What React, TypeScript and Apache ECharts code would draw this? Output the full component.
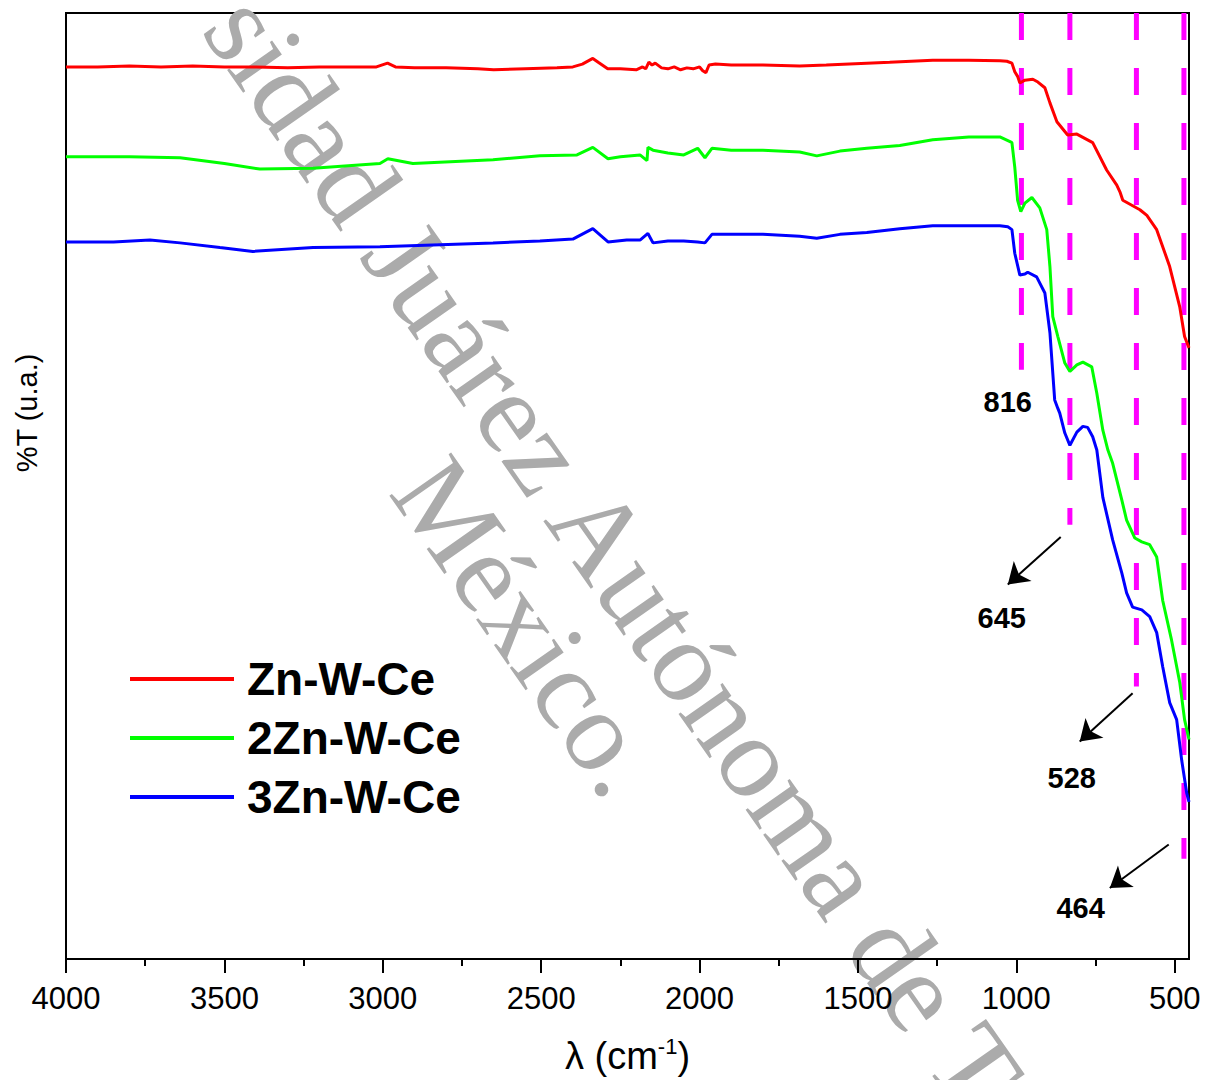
import React, { useEffect, useRef } from "react";
import * as echarts from "echarts";

// FTIR transmittance spectra (wavenumber in cm-1, %T in arbitrary units)
const redX = [4000, 3900, 3800, 3700, 3600, 3500, 3400, 3300, 3200, 3100, 3020, 2985, 2960, 2900, 2800, 2700, 2650, 2550, 2450, 2400, 2370, 2337, 2320, 2290, 2250, 2200, 2180, 2170, 2160, 2150, 2140, 2120, 2100, 2080, 2060, 2040, 2020, 2000, 1990, 1980, 1970, 1950, 1900, 1800, 1684, 1600, 1472, 1400, 1264, 1150, 1052, 1030, 1014, 1005, 996, 989, 973, 948, 932, 910, 894, 872, 838, 809, 759, 715, 683, 672, 664, 610, 588, 557, 516, 484, 469, 455];
const redY = [94.3, 94.3, 94.4, 94.3, 94.4, 94.3, 94.3, 94.2, 94.3, 94.3, 94.3, 94.7, 94.3, 94.2, 94.2, 94.1, 94.0, 94.1, 94.2, 94.3, 94.6, 95.2, 94.8, 94.1, 94.1, 94.0, 94.3, 94.1, 94.8, 94.5, 94.7, 94.2, 94.1, 94.3, 94.0, 94.2, 94.1, 94.3, 93.9, 93.7, 94.5, 94.6, 94.5, 94.5, 94.4, 94.5, 94.7, 94.8, 95.0, 95.0, 94.95, 94.9, 94.7, 93.8, 93.3, 92.6, 92.9, 93.0, 92.7, 92.1, 90.5, 88.5, 87.1, 87.2, 86.3, 83.4, 81.8, 81.0, 80.2, 79.2, 78.6, 77.1, 73.2, 68.9, 65.8, 64.6];

const greenX = [4000, 3800, 3640, 3500, 3388, 3220, 3009, 2984, 2905, 2652, 2504, 2387, 2337, 2289, 2250, 2188, 2166, 2163, 2147, 2100, 2050, 2006, 1983, 1961, 1900, 1800, 1684, 1630, 1557, 1472, 1368, 1264, 1150, 1052, 1020, 1014, 1005, 996, 986, 973, 951, 926, 904, 894, 885, 869, 847, 831, 809, 790, 762, 746, 727, 711, 696, 667, 652, 626, 604, 579, 557, 538, 510, 484, 469, 455];
const greenY = [84.8, 84.8, 84.7, 84.1, 83.5, 83.6, 84.1, 84.6, 84.1, 84.5, 84.9, 85.0, 85.8, 84.6, 84.8, 85.0, 84.4, 85.8, 85.5, 85.2, 85.0, 85.7, 84.7, 85.7, 85.5, 85.5, 85.3, 84.9, 85.4, 85.7, 86.0, 86.6, 86.9, 86.9, 86.4, 86.3, 83.7, 80.2, 79.0, 79.9, 80.5, 79.4, 77.1, 73.2, 67.9, 65.8, 63.0, 62.1, 62.8, 63.1, 62.6, 59.8, 55.9, 53.8, 52.4, 48.5, 46.4, 44.5, 44.1, 43.8, 42.5, 37.9, 33.7, 29.2, 25.3, 23.2];

const blueX = [4000, 3850, 3735, 3640, 3514, 3410, 3220, 3009, 2652, 2504, 2400, 2337, 2289, 2230, 2188, 2163, 2147, 2100, 2050, 2006, 1983, 1961, 1900, 1800, 1684, 1630, 1557, 1472, 1368, 1264, 1150, 1052, 1027, 1014, 1005, 989, 973, 964, 936, 910, 894, 879, 869, 863, 847, 831, 809, 790, 775, 759, 746, 727, 696, 667, 652, 633, 604, 579, 557, 538, 516, 494, 478, 462, 455];
const blueY = [75.8, 75.8, 76.0, 75.7, 75.2, 74.8, 75.2, 75.3, 75.7, 75.9, 76.1, 77.2, 75.8, 76.0, 76.0, 76.7, 75.7, 75.9, 75.9, 75.8, 75.7, 76.6, 76.6, 76.6, 76.4, 76.2, 76.6, 76.8, 77.2, 77.5, 77.5, 77.5, 77.4, 77.1, 74.6, 72.3, 72.4, 72.6, 72.1, 70.4, 66.2, 59.1, 58.2, 57.7, 55.6, 54.3, 55.7, 56.3, 56.2, 55.2, 53.8, 48.8, 44.3, 40.8, 38.7, 37.2, 36.9, 36.2, 34.5, 30.9, 27.1, 25.3, 21.0, 17.5, 16.6];

const seriesNames = ["Zn-W-Ce", "2Zn-W-Ce", "3Zn-W-Ce"];
const seriesColors = ["#ff0000", "#00ff00", "#0000ff"];

// Band markers: wavenumber of each dashed guide and the %T where it stops
const markerX = [984, 831, 621, 471];
const markerEndY = [62.3, 45.9, 28.8, 10.6];

// Band annotations: text, position, and optional arrow (tail -> head)
const bandLabels = ["816", "645", "528", "464"];
const bandLabelX = [1027, 1046, 825, 797];
const bandLabelY = [58.9, 36.0, 19.1, 5.4];
const arrowTails = [[860, 44.6], [633, 28.1], [519, 12.1]];
const arrowHeads = [[1027, 39.6], [800, 23.0], [705, 7.5]];

const majorTicks = [500, 1000, 1500, 2000, 2500, 3000, 3500, 4000];
const minorTicks = [750, 1250, 1750, 2250, 2750, 3250, 3750];

const SANS = "'Liberation Sans', Arial, sans-serif";
const SERIF = "'Liberation Serif', 'Times New Roman', serif";

function zip(xs: number[], ys: number[]) {
  return xs.map((x, i) => [x, ys[i]]);
}

export default function App() {
  const ref = useRef<HTMLDivElement>(null);

  useEffect(() => {
    if (!ref.current) return;
    const chart = echarts.init(ref.current, undefined, { renderer: "svg" });

    const deg = Math.PI / 180;
    const wmAngle = -55 * deg;

    const option: any = {
      animation: false,
      backgroundColor: "#ffffff",
      textStyle: { fontFamily: SANS },
      grid: {
        left: 66,
        right: 18,
        top: 13,
        bottom: 121,
        show: true,
        borderColor: "#000",
        borderWidth: 2,
        backgroundColor: "transparent",
      },
      legend: {
        data: seriesNames,
        orient: "vertical",
        left: 130,
        top: 656,
        padding: 0,
        icon: "rect",
        itemWidth: 104,
        itemHeight: 4,
        itemGap: 13,
        textStyle: {
          fontSize: 46,
          fontWeight: "bold",
          color: "#000",
          fontFamily: SANS,
          lineHeight: 44,
          padding: [0, 0, 0, 8],
        },
      },
      xAxis: [
        {
          type: "value",
          inverse: true,
          min: 455,
          max: 4000,
          position: "bottom",
          axisLine: { show: true, lineStyle: { color: "#000", width: 2 } },
          axisTick: {
            show: true,
            customValues: majorTicks,
            length: 14,
            lineStyle: { color: "#000", width: 2 },
          },
          axisLabel: {
            show: true,
            customValues: majorTicks,
            formatter: (v: number) => String(v),
            fontSize: 31,
            color: "#000",
            margin: 24,
            fontFamily: SANS,
          },
          splitLine: { show: false },
          name: "{a|λ (cm}{b|-1}{a|)}",
          nameLocation: "middle",
          nameGap: 76,
          nameTextStyle: {
            rich: {
              a: { fontSize: 38, color: "#000", fontFamily: SANS, lineHeight: 42 },
              b: { fontSize: 22, color: "#000", fontFamily: SANS, lineHeight: 26, verticalAlign: "top" },
            },
          },
        },
        {
          type: "value",
          inverse: true,
          min: 455,
          max: 4000,
          position: "bottom",
          axisLine: { show: false },
          axisTick: {
            show: true,
            customValues: minorTicks,
            length: 7,
            lineStyle: { color: "#000", width: 2 },
          },
          axisLabel: { show: false },
          splitLine: { show: false },
        },
      ],
      yAxis: {
        type: "value",
        min: 0,
        max: 100,
        axisLine: { show: true, lineStyle: { color: "#000", width: 2 } },
        axisTick: { show: false },
        axisLabel: { show: false },
        splitLine: { show: false },
      },
      graphic: [
        {
          type: "text",
          x: 232,
          y: 8,
          rotation: wmAngle,
          z: 0,
          silent: true,
          style: {
            text: "sidad Juárez Autónoma de T",
            fontSize: 117,
            fontFamily: SERIF,
            fill: "#ababab",
            align: "left",
            verticalAlign: "middle",
          },
        },
        {
          type: "text",
          x: 419,
          y: 471,
          rotation: wmAngle,
          z: 0,
          silent: true,
          style: {
            text: "México.",
            fontSize: 115,
            fontFamily: SERIF,
            fill: "#ababab",
            align: "left",
            verticalAlign: "middle",
          },
        },
        {
          type: "text",
          x: 27,
          y: 413,
          rotation: Math.PI / 2,
          style: {
            text: "%T (u.a.)",
            fontSize: 29,
            fontFamily: SANS,
            fill: "#000",
            align: "center",
            verticalAlign: "middle",
          },
        },
      ],
      series: [
        ...markerX.map((x, i) => ({
          type: "line",
          name: "marker" + i,
          xAxisIndex: 0,
          data: [
            [x, 100],
            [x, markerEndY[i]],
          ],
          symbol: "none",
          z: 2,
          silent: true,
          lineStyle: { color: "#ff00ff", width: 5, type: [27, 28] },
        })),
        ...[zip(redX, redY), zip(greenX, greenY), zip(blueX, blueY)].map((d, i) => ({
          type: "line",
          name: seriesNames[i],
          xAxisIndex: 0,
          data: d,
          symbol: "none",
          showSymbol: false,
          z: 3,
          color: seriesColors[i],
          lineStyle: { color: seriesColors[i], width: 3 },
          itemStyle: { color: seriesColors[i] },
        })),
        {
          type: "lines",
          name: "arrows",
          coordinateSystem: "cartesian2d",
          xAxisIndex: 0,
          symbol: ["none", "arrow"],
          symbolSize: [0, 20],
          silent: true,
          z: 4,
          lineStyle: { color: "#000", width: 2, opacity: 1, curveness: 0 },
          data: arrowTails.map((t, i) => ({ coords: [t, arrowHeads[i]] })),
        },
        {
          type: "scatter",
          name: "bands",
          xAxisIndex: 0,
          symbolSize: 0,
          silent: true,
          z: 4,
          itemStyle: { opacity: 1 },
          data: bandLabels.map((t, i) => [bandLabelX[i], bandLabelY[i], t]),
          label: {
            show: true,
            position: "inside",
            formatter: (p: any) => p.data[2],
            fontSize: 29,
            fontWeight: "bold",
            color: "#000",
            opacity: 1,
            fontFamily: SANS,
          },
        },
      ],
    };

    chart.setOption(option);
    return () => chart.dispose();
  }, []);

  return (
    <div
      ref={ref}
      style={{ position: "fixed", left: 0, top: 0, width: 1207, height: 1080, background: "#fff" }}
    />
  );
}
